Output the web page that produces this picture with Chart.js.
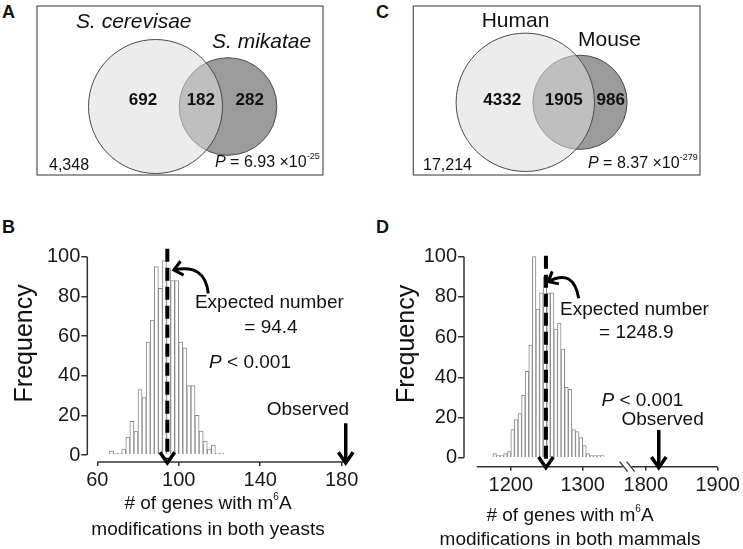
<!DOCTYPE html>
<html>
<head>
<meta charset="utf-8">
<script src="https://cdn.jsdelivr.net/npm/chart.js@4.4.1/dist/chart.umd.min.js"></script>
<style>
  html, body { margin: 0; padding: 0; background: #fff; }
  body { position: relative; width: 743px; height: 549px; overflow: hidden; font-family: "Liberation Sans", Arial, sans-serif; }
  canvas { position: absolute; }
  .tag { position: absolute; font-size: 18px; font-weight: bold; line-height: 18px; color: #111; }
</style>
</head>
<body>
<div class="tag" style="left:2px;top:3px">A</div>
<div class="tag" style="left:2px;top:218px">B</div>
<div class="tag" style="left:376px;top:3px">C</div>
<div class="tag" style="left:376px;top:218px">D</div>
<canvas id="vennA" width="370" height="180" style="left:0;top:0"></canvas>
<canvas id="vennC" width="373" height="180" style="left:370px;top:0"></canvas>
<canvas id="histB" width="370" height="364" style="left:0;top:185px"></canvas>
<canvas id="histD" width="373" height="364" style="left:370px;top:185px"></canvas>
<script>
// overlap of m6A genes between species
const vennNamesA = ['S. cerevisae', 'S. mikatae'];
const vennCountsA = [692, 182, 282];      // only first, both, only second
const vennTotalA = '4,348';
const vennPA = ['6.93', '-25'];

const vennNamesC = ['Human', 'Mouse'];
const vennCountsC = [4332, 1905, 986];
const vennTotalC = '17,214';
const vennPC = ['8.37', '-279'];

// permutation histograms (bin centres / frequency)
const binsB = [67, 69, 71, 73, 75, 77, 79, 81, 83, 85, 87, 89, 91, 93, 95, 97, 99, 101, 103, 105, 107, 109, 111, 113, 115, 117, 119, 121];
const freqB = [2, 1, 1, 3, 9, 17, 12, 33, 29, 57, 68, 95, 84, 98, 94, 88, 88, 57, 54, 35, 35, 20, 12, 7, 3, 5, 1, 1];
const xTicksB = [60, 100, 140, 180];
const expectedB = 94.4;
const observedB = 182;

const binsD = [1177.5, 1182.5, 1187.5, 1192.5, 1197.5, 1202.5, 1207.5, 1212.5, 1217.5, 1222.5, 1227.5, 1232.5, 1237.5, 1242.5, 1247.5, 1252.5, 1257.5, 1262.5, 1267.5, 1272.5, 1277.5, 1282.5, 1287.5, 1292.5, 1297.5, 1302.5, 1307.5, 1312.5, 1317.5, 1322.5, 1327.5];
const freqD = [2, 1, 1, 2, 3, 14, 19, 22, 31, 43, 56, 100, 74, 82, 90, 82, 82, 64, 67, 54, 35, 34, 14, 13, 10, 6, 2, 1, 1, 1, 1];
const xTicksD = [1200, 1300, 1800, 1900];
const expectedD = 1248.9;
const observedD = 1818;

const yTicks = [0, 20, 40, 60, 80, 100];

const FAM = '"Liberation Sans", Arial, sans-serif';
const font = (size, style) => (style ? style + ' ' : '') + size + 'px ' + FAM;
Chart.defaults.font.family = FAM;
Chart.defaults.color = '#1a1a1a';

function seg(ctx, x1, y1, x2, y2) {
  ctx.beginPath(); ctx.moveTo(x1, y1); ctx.lineTo(x2, y2); ctx.stroke();
}

// draw a row of text pieces with their own fonts (italic P, superscripts)
function runs(ctx, parts, x, y, align) {
  let w = 0;
  parts.forEach(p => { ctx.font = p[1]; w += ctx.measureText(p[0]).width; });
  let cx = align === 'center' ? x - w / 2 : x;
  ctx.textAlign = 'left';
  parts.forEach(p => {
    ctx.font = p[1];
    ctx.fillText(p[0], cx, y + (p[2] || 0));
    cx += ctx.measureText(p[0]).width;
  });
}

function arrowHead(ctx, tx, ty, ang, len, spread) {
  ctx.beginPath();
  ctx.moveTo(tx - len * Math.cos(ang - spread), ty - len * Math.sin(ang - spread));
  ctx.lineTo(tx, ty);
  ctx.lineTo(tx - len * Math.cos(ang + spread), ty - len * Math.sin(ang + spread));
  ctx.stroke();
}

// ---------- Venn panels ----------
function vennDecor(g) {
  return {
    id: 'vennDecor',
    afterDatasetsDraw(chart) {
      const {ctx, scales: {x, y}} = chart;
      const X = v => x.getPixelForValue(v), Y = v => y.getPixelForValue(v);
      const [c1, c2] = g.circles;
      ctx.save();
      ctx.strokeStyle = '#555'; ctx.lineWidth = 1.2;
      ctx.strokeRect(X(g.box[0]), Y(g.box[1]), X(g.box[2]) - X(g.box[0]), Y(g.box[3]) - Y(g.box[1]));
      ctx.fillStyle = '#111'; ctx.textBaseline = 'alphabetic';
      g.names.forEach((n, i) => runs(ctx, [[n, font(21, g.italic ? 'italic' : '')]], X(g.nameAt[i][0]), Y(g.nameAt[i][1]), 'left'));
      const lx = [
        (c1.x - c1.r) * 0.4 + (c2.x - c2.r) * 0.6,
        ((c2.x - c2.r) + (c1.x + c1.r)) / 2,
        ((c1.x + c1.r) + (c2.x + c2.r)) / 2
      ];
      ctx.textBaseline = 'middle'; ctx.textAlign = 'center'; ctx.font = font(17, 'bold');
      g.counts.forEach((n, i) => ctx.fillText(String(n), X(lx[i]), Y(c1.y + g.labelDy)));
      ctx.textBaseline = 'alphabetic';
      runs(ctx, [[g.total, font(16)]], X(g.totalAt[0]), Y(g.totalAt[1]), 'left');
      runs(ctx, [['P', font(16, 'italic')], [' = ' + g.p[0] + ' \u00d710', font(16)], [g.p[1], font(9), -8]], X(g.pAt[0]), Y(g.pAt[1]), 'left');
      ctx.restore();
    }
  };
}

// circle area follows the set size; the scales span the canvas one unit per pixel,
// so the bubble radius (pixels) equals the radius in axis units
function venn(id, names, counts, total, p, geo) {
  const [a, ab, b] = counts;
  const c1 = {x: geo.cx, y: geo.cy, r: geo.k * Math.sqrt(a + ab)};
  const c2 = {x: geo.cx + geo.dist, y: geo.cy, r: geo.k * Math.sqrt(ab + b)};
  const g = Object.assign({}, geo, {names, counts, total, p, circles: [c1, c2]});
  return new Chart(document.getElementById(id), {
    type: 'bubble',
    data: {
      datasets: [
        {data: [c1], backgroundColor: 'rgba(220,220,220,0.55)', borderColor: '#4a4a4a', borderWidth: 1, order: 0, clip: false},
        {data: [c2], backgroundColor: '#9b9b9b', borderColor: '#4a4a4a', borderWidth: 1, order: 1, clip: false}
      ]
    },
    options: {
      responsive: false, animation: false, events: [],
      layout: {autoPadding: false, padding: 0},
      plugins: {legend: {display: false}, tooltip: {enabled: false}},
      scales: {
        x: {type: 'linear', display: false, min: 0, max: geo.w},
        y: {type: 'linear', display: false, min: 0, max: geo.h, reverse: true}
      }
    },
    plugins: [vennDecor(g)]
  });
}

venn('vennA', vennNamesA, vennCountsA, vennTotalA, vennPA, {
  w: 370, h: 180, k: 2.266, cx: 155.5, cy: 106.5, dist: 72.5, labelDy: -6, italic: true,
  box: [37, 6, 323, 175], nameAt: [[76, 28], [212, 48]], totalAt: [49, 170], pAt: [215, 167]
});
venn('vennC', vennNamesC, vennCountsC, vennTotalC, vennPC, {
  w: 373, h: 180, k: 0.876, cx: 155.3, cy: 102.3, dist: 54.7, labelDy: -2, italic: false,
  box: [43.3, 6, 330, 175], nameAt: [[111.7, 26.7], [208, 45.7]], totalAt: [53, 170], pAt: [218, 168]
});

// ---------- histograms ----------
function histDecor(c) {
  return {
    id: 'histDecor',
    afterDraw(chart) {
      const {ctx, chartArea: ca, scales: {x, y}} = chart;
      const X = v => x.getPixelForValue(v);
      const Y = v => y.getPixelForValue(v);
      const base = ca.bottom;
      ctx.save();
      ctx.strokeStyle = '#333'; ctx.lineWidth = 1.5;
      seg(ctx, ca.left, Y(0), ca.left, Y(100));
      c.axisParts.forEach(([a, b]) => seg(ctx, X(a), base, X(b), base));
      if (c.breakAt) {
        const bx = X(c.breakAt);
        ctx.lineWidth = 1.3;
        [-3.5, 3.5].forEach(d => seg(ctx, bx + d - 4, base - 5, bx + d + 4, base + 5));
      }
      ctx.strokeStyle = '#000';
      const ex = X(c.toAxis(c.expected));
      ctx.lineWidth = 4; ctx.setLineDash(c.dash);
      seg(ctx, ex, Y(c.dashTop), ex, base - 3);
      ctx.setLineDash([]);
      ctx.lineWidth = 3.5; ctx.lineJoin = 'miter';
      arrowHead(ctx, ex, base + 1, Math.PI / 2, 13, 0.6);
      const ox = X(c.toAxis(c.observed));
      seg(ctx, ox, Y(c.obsTop), ox, base - 1);
      arrowHead(ctx, ox, base + 1, Math.PI / 2, 13, 0.6);
      const [s, k, t] = c.curve.map(p => [X(p[0]), Y(p[1])]);
      ctx.lineWidth = 3;
      ctx.beginPath(); ctx.moveTo(s[0], s[1]); ctx.quadraticCurveTo(k[0], k[1], t[0], t[1]); ctx.stroke();
      arrowHead(ctx, t[0], t[1], Math.atan2(t[1] - k[1], t[0] - k[0]), 11, 0.7);

      ctx.fillStyle = '#111'; ctx.textBaseline = 'alphabetic';
      c.notes.forEach(n => runs(ctx, n.parts, X(n.at[0]), Y(n.at[1]), 'center'));
      ctx.save();
      ctx.translate(c.yTitle[0], Y(c.yTitle[1]));
      ctx.rotate(-Math.PI / 2);
      ctx.textBaseline = 'middle';
      runs(ctx, [['Frequency', font(25)]], 0, 0, 'center');
      ctx.restore();
      ctx.textBaseline = 'alphabetic';
      runs(ctx, [['# of genes with m', font(19)], ['6', font(10), -9], ['A', font(19)]], c.xTitle[0], c.xTitle[1], 'center');
      runs(ctx, [[c.xTitle2, font(19)]], c.xTitle[0], c.xTitle[2], 'center');
      ctx.restore();
    }
  };
}

function histogram(id, bins, freq, c) {
  return new Chart(document.getElementById(id), {
    type: 'bar',
    data: {
      datasets: [{
        data: bins.map((b, i) => ({x: c.toAxis(b), y: freq[i]})),
        backgroundColor: '#fff', borderColor: '#8a8a8a', borderWidth: 1,
        barPercentage: 1, categoryPercentage: 1, clip: false
      }]
    },
    options: {
      responsive: false, animation: false, events: [],
      layout: {autoPadding: false, padding: {left: 0, top: c.padTop, right: c.padRight, bottom: 0}},
      plugins: {legend: {display: false}, tooltip: {enabled: false}},
      scales: {
        x: {
          type: 'linear', min: c.xMin, max: c.xMax, offset: false,
          afterBuildTicks: s => { s.ticks = c.xTicks.map(v => ({value: c.toAxis(v)})); },
          afterFit: s => { s.height = c.xHeight; },
          ticks: {font: {size: 20}, color: '#1a1a1a', padding: c.xPad, maxRotation: 0, autoSkip: false, callback: v => String(c.fromAxis(v))},
          grid: {display: true, drawOnChartArea: false, drawTicks: true, tickLength: 4, color: '#333', lineWidth: 1.5, offset: false},
          border: {display: false}
        },
        y: {
          type: 'linear', min: c.yMin, max: 100,
          afterBuildTicks: s => { s.ticks = yTicks.map(v => ({value: v})); },
          afterFit: s => { s.width = c.yWidth; },
          ticks: {font: {size: 20}, color: '#1a1a1a', padding: 1},
          grid: {display: true, drawOnChartArea: false, drawTicks: true, tickLength: 6, color: '#333', lineWidth: 1.5},
          border: {display: false}
        }
      }
    },
    plugins: [histDecor(c)]
  });
}

const same = v => v;
histogram('histB', binsB, freqB, {
  toAxis: same, fromAxis: same, xTicks: xTicksB,
  xMin: 55.1, xMax: 184.1, yMin: -3.53, padTop: 71.7, padRight: 20, yWidth: 87.3, xHeight: 87, xPad: 2,
  axisParts: [[60, 183]], expected: expectedB, observed: observedB, dashTop: 104, obsTop: 16, dash: [13, 6],
  curve: [[114.5, 81.5], [112.9, 96.8], [97.6, 93.3]],
  notes: [
    {parts: [['Expected number', font(19)]], at: [144.5, 74.1]},
    {parts: [['= ' + expectedB, font(19)]], at: [145.3, 61.5]},
    {parts: [['P', font(19, 'italic')], [' < 0.001', font(19)]], at: [135, 43.7]},
    {parts: [['Observed', font(19)]], at: [163.4, 20.2]}
  ],
  yTitle: [25, 56.3], xTitle: [208, 324, 350], xTitle2: 'modifications in both yeasts'
});

// axis break between 1300 and 1800: values above the break are shifted left
const SHIFT = 412;
histogram('histD', binsD, freqD, {
  toAxis: v => v > 1500 ? v - SHIFT : v, fromAxis: v => v > 1350 ? v + SHIFT : v, xTicks: xTicksD,
  xMin: 1134.8, xMax: 1490.9, yMin: -4.48, padTop: 71.7, padRight: 13, yWidth: 94, xHeight: 82.3, xPad: 3,
  axisParts: [[1152.6, 1356], [1368, 1488]], breakAt: 1362,
  expected: expectedD, observed: observedD, dashTop: 100.5, obsTop: 13.8, dash: [13, 6],
  curve: [[1294.5, 79.3], [1287.4, 94.4], [1252, 87.6]],
  notes: [
    {parts: [['Expected number', font(19)]], at: [1372.1, 71]},
    {parts: [['= ' + expectedD, font(19)]], at: [1374.8, 59.6]},
    {parts: [['P', font(19, 'italic')], [' < 0.001', font(19)]], at: [1383.2, 25.9]},
    {parts: [['Observed', font(19)]], at: [1411.3, 16.3]}
  ],
  yTitle: [37.3, 56.6], xTitle: [200, 336, 360], xTitle2: 'modifications in both mammals'
});
</script>
</body>
</html>
